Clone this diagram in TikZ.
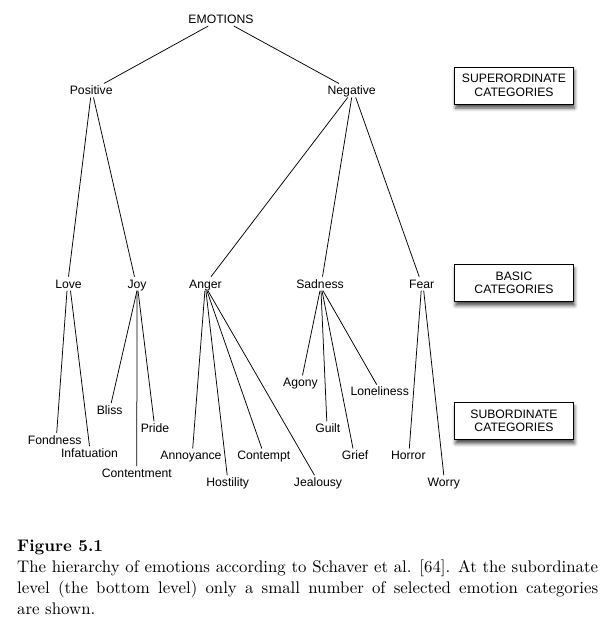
\documentclass[tikz,border=0pt]{standalone}
\usepackage{fontspec}
\newfontfamily\labfont{Liberation Sans}
\usetikzlibrary{shadows.blur}
\begin{document}
\begin{tikzpicture}[x=1pt,y=-1pt,
  lab/.style={font=\labfont\fontsize{12.2}{14}\selectfont, inner sep=2.5pt, text height=8.6pt, text depth=0pt},
  edge/.style={draw=black, line width=0.75pt},
  catbox/.style={draw=black, line width=0.9pt, fill=white, minimum width=119pt, minimum height=37pt, align=center, inner sep=0pt, font=\labfont\fontsize{12.2}{13.5}\selectfont, blur shadow={shadow xshift=1pt, shadow yshift=-4pt, shadow blur radius=3.5pt, shadow opacity=70}},
  captxt/.style={inner sep=0pt, anchor=base west}]

\useasboundingbox (0,0) rectangle (607,632);

% level 0 and 1
\node[lab] (emotions) at (221,19) {EMOTIONS};
\node[lab] (positive) at (91.2,90.5) {Positive};
\node[lab] (negative) at (351.7,90.5) {Negative};

% basic level
\node[lab] (love) at (68.5,283.7) {Love};
\node[lab] (joy) at (137,283.7) {Joy};
\node[lab] (anger) at (205.4,283.7) {Anger};
\node[lab] (sadness) at (320,283.7) {Sadness};
\node[lab] (fear) at (421.7,283.7) {Fear};

% subordinate level
\node[lab] (fondness) at (54.7,440) {Fondness};
\node[lab] (infatuation) at (89.5,453.2) {Infatuation};
\node[lab] (bliss) at (109.7,410) {Bliss};
\node[lab] (pride) at (155,428.3) {Pride};
\node[lab] (contentment) at (136.8,473) {Contentment};
\node[lab] (annoyance) at (191,455.5) {Annoyance};
\node[lab] (hostility) at (227.7,482.3) {Hostility};
\node[lab] (contempt) at (263.8,455.5) {Contempt};
\node[lab] (jealousy) at (318,482.3) {Jealousy};
\node[lab] (agony) at (300.5,382.3) {Agony};
\node[lab] (guilt) at (327.8,428.3) {Guilt};
\node[lab] (grief) at (355,455.5) {Grief};
\node[lab] (loneliness) at (379.7,391.6) {Loneliness};
\node[lab] (horror) at (408.3,455.5) {Horror};
\node[lab] (worry) at (443.8,482.3) {Worry};

% category boxes
\node[catbox] (sup) at (514,85.5) {SUPERORDINATE\\CATEGORIES};
\node[catbox] (bas) at (514,283) {BASIC\\CATEGORIES};
\node[catbox] (sub) at (514,421) {SUBORDINATE\\CATEGORIES};

% edges
\draw[edge] (emotions) -- (positive);
\draw[edge] (emotions) -- (negative);
\draw[edge] ([xshift=-0.5pt]positive.south) -- (love.north);
\draw[edge] ([xshift=2.3pt]positive.south) -- ([xshift=-2.5pt]joy.north);
\draw[edge] ([xshift=-4pt]negative.south) -- ([xshift=5.6pt]anger.north);
\draw[edge] (negative.south) -- ([xshift=2.5pt]sadness.north);
\draw[edge] ([xshift=4pt]negative.south) -- ([xshift=-2.5pt]fear.north);

\draw[edge] ([xshift=-1.5pt]love.south) -- ([xshift=2pt]fondness.north);
\draw[edge] ([xshift=2pt]love.south) -- (infatuation.north);

\draw[edge] (joy.south) -- ([xshift=1.5pt]bliss.north);
\draw[edge] (joy.south) -- (contentment.north);
\draw[edge] ([xshift=1pt]joy.south) -- ([xshift=-1pt]pride.north);

\draw[edge] ([xshift=-0.5pt]anger.south) -- ([xshift=1.7pt]annoyance.north);
\draw[edge] ([xshift=0.5pt]anger.south) -- ([xshift=-0.5pt]hostility.north);
\draw[edge] ([xshift=1.5pt]anger.south) -- ([xshift=-2pt]contempt.north);
\draw[edge] ([xshift=2.5pt]anger.south) -- ([xshift=-3.5pt]jealousy.north);

\draw[edge] (sadness.south) -- ([xshift=2pt]agony.north);
\draw[edge] ([xshift=1pt]sadness.south) -- ([xshift=-1pt]guilt.north);
\draw[edge] ([xshift=2pt]sadness.south) -- ([xshift=-2pt]grief.north);
\draw[edge] ([xshift=3pt]sadness.south) -- ([xshift=-3pt]loneliness.north);

\draw[edge] ([xshift=-0.5pt]fear.south) -- ([xshift=1pt]horror.north);
\draw[edge] ([xshift=2pt]fear.south) -- (worry.north);

% caption
\node[captxt] (c0) at (17,551) {\scalebox{1.68}{\bfseries Figure 5.1}};
\node[captxt] (c1) at (17,572) {\scalebox{1.68}{\makebox[345.8pt][s]{The hierarchy of emotions according to Schaver et al. [64]. At the subordinate}}};
\node[captxt] (c2) at (17,593) {\scalebox{1.68}{\makebox[345.8pt][s]{level (the bottom level) only a small number of selected emotion categories}}};
\node[captxt] (c3) at (17,614) {\scalebox{1.68}{are shown.}};
\end{tikzpicture}
\end{document}
